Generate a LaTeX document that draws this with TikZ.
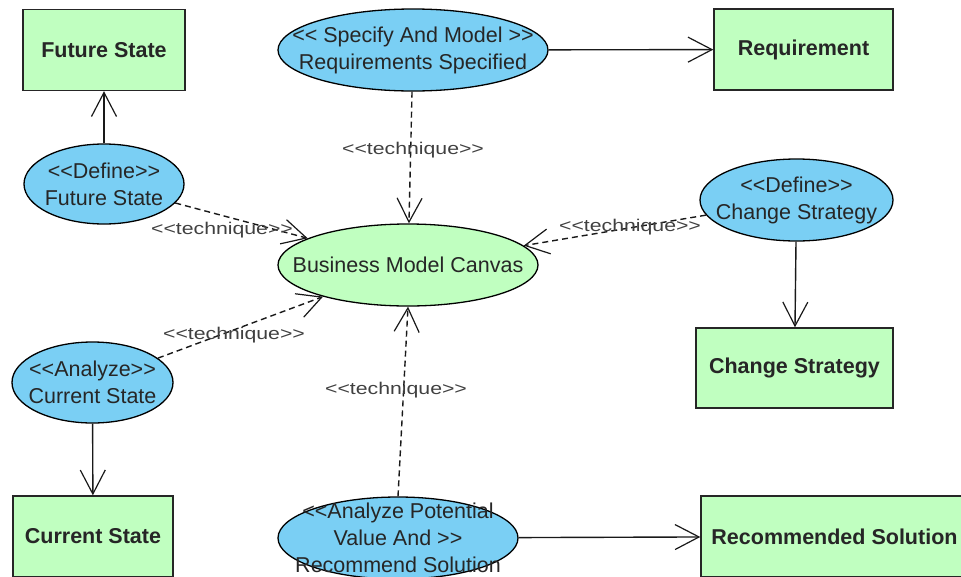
\documentclass[tikz,border=0pt]{standalone}
\usepackage{graphicx}
\usepackage{fontspec}
\setmainfont{Liberation Sans}
\usetikzlibrary{shapes.geometric,arrows.meta}
\definecolor{ucblue}{HTML}{7ACFF4}
\definecolor{boxgreen}{HTML}{C0FFC0}
\definecolor{inktext}{HTML}{262626}
\definecolor{labelgray}{HTML}{404040}

\begin{document}
\begin{tikzpicture}[x=1pt,y=-1pt,
  usecase/.style={ellipse, draw=black, line width=1.3pt, fill=ucblue, inner sep=0pt},
  concept/.style={ellipse, draw=black, line width=1.3pt, fill=boxgreen, inner sep=0pt},
  artifact/.style={rectangle, draw=black!85, line width=1.4pt, fill=boxgreen, inner sep=0pt,
    font=\fontsize{21.5pt}{27pt}\selectfont\bfseries, text=inktext},
  uctext/.style={align=center, inner sep=0pt, font=\fontsize{21.5pt}{27pt}\selectfont, text=inktext},
  assoc/.style={draw=black!90, line width=1.4pt,
    -{Straight Barb[length=24pt,width=25pt,line width=1.2pt]}},
  usedep/.style={assoc, dash pattern=on 6pt off 4pt},
  techlabel/.style={inner sep=0pt, text=labelgray, font=\fontsize{17pt}{20pt}\selectfont}
]
\useasboundingbox (0,0) rectangle (961,576);
\clip (0,0) rectangle (961,576);

% artifacts
\node[artifact, minimum width=162pt, minimum height=81pt] (fs)   at (104,50)    {Future State};
\node[artifact, minimum width=179pt, minimum height=81pt] (req)  at (803.5,49.5) {Requirement};
\node[artifact, minimum width=197pt, minimum height=80pt] (chs)  at (794.5,368) {Change Strategy};
\node[artifact, minimum width=160pt, minimum height=81pt] (curs) at (93,536.5)  {Current State};
\node[artifact, minimum width=267pt, minimum height=81pt] (rs)   at (834.5,536.5) {Recommended Solution};

% tasks
\node[usecase, minimum width=270pt, minimum height=82pt,
  label={[uctext]center:{<{}< Specify And Model >{}>\\Requirements Specified}}] (spec) at (413,50) {};
\node[usecase, minimum width=160pt, minimum height=80pt,
  label={[uctext]center:{<{}<Define>{}>\\Future State}}] (dfs) at (104,184) {};
\node[usecase, minimum width=193pt, minimum height=82pt,
  label={[uctext]center:{<{}<Define>{}>\\Change Strategy}}] (dcs) at (796.5,200) {};
\node[usecase, minimum width=161pt, minimum height=81pt,
  label={[uctext]center:{<{}<Analyze>{}>\\Current State}}] (acs) at (92.5,382.5) {};
\node[usecase, minimum width=240pt, minimum height=82pt,
  label={[uctext]center:{<{}<Analyze Potential\\Value And >{}>\\Recommend Solution}}] (ap) at (398,538) {};

% technique
\node[concept, minimum width=260pt, minimum height=82pt,
  label={[uctext]center:{Business Model Canvas}}] (bmc) at (408,265) {};

% outputs
\draw[assoc] (dfs) -- (fs);
\draw[assoc] (spec) -- (req);
\draw[assoc] (dcs) -- (chs);
\draw[assoc] (acs) -- (curs);
\draw[assoc] (ap) -- (rs);

% technique usage
\draw[usedep] (spec) -- (bmc);
\draw[usedep] (dfs) -- (bmc);
\draw[usedep] (dcs) -- (bmc);
\draw[usedep] (acs) -- (bmc);
\draw[usedep] (ap.north) -- (bmc.south);

\node[techlabel] (t1) at (413,150) {\scalebox{1.25}[1]{<{}<technique>{}>}};
\node[techlabel] (t2) at (222,230) {\scalebox{1.25}[1]{<{}<technique>{}>}};
\node[techlabel] (t3) at (630,227) {\scalebox{1.25}[1]{<{}<technique>{}>}};
\node[techlabel] (t4) at (234,335) {\scalebox{1.25}[1]{<{}<technique>{}>}};
\node[techlabel] (t5) at (396,390) {\scalebox{1.25}[1]{<{}<technique>{}>}};
\end{tikzpicture}
\end{document}
